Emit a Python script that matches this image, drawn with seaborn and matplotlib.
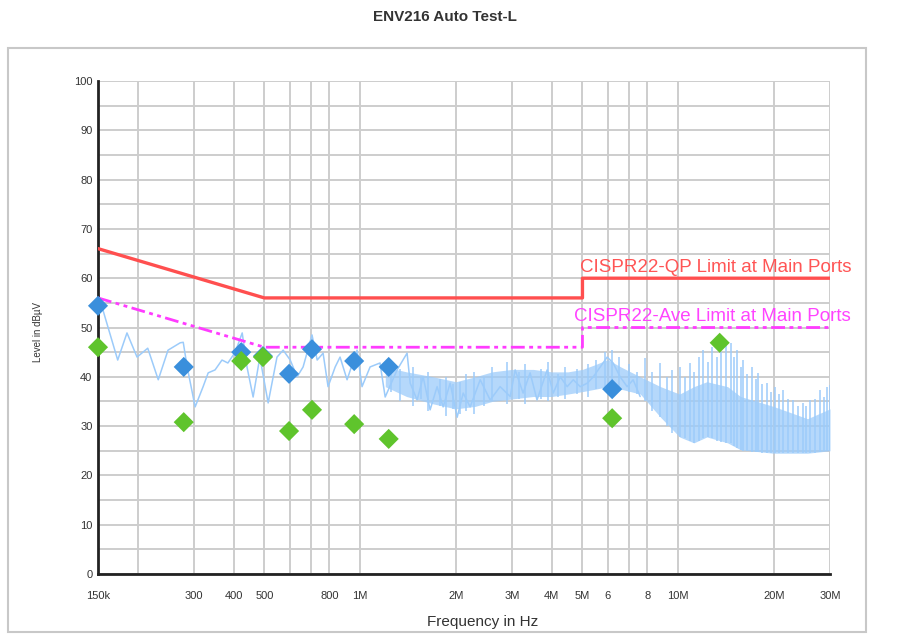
import matplotlib
matplotlib.use("Agg")
import matplotlib.pyplot as plt
import seaborn as sns
import pandas as pd
from matplotlib.ticker import FixedLocator, FixedFormatter, MultipleLocator
from matplotlib.patches import Rectangle

# ---------------- data ----------------
# spectrum trace (kHz, dBuV) – sparse low-frequency part
trace_khz = [150, 158, 173, 185, 199, 215, 232, 249, 272, 278, 286, 303, 321, 333, 350,
             368, 384, 405, 426, 441, 461, 484, 514, 548, 573, 603, 634, 662, 706, 733,
             765, 793, 835, 865, 910, 978, 1014, 1075, 1155, 1199, 1307, 1405, 1437, 1511,
             1578, 1660, 1746, 1824, 1919, 2019, 2109, 2218, 2385, 2564, 2755, 2964, 3072,
             3254, 3423, 3599, 3873, 4047, 4257, 4477, 4678, 4920, 5175, 5409, 5687, 5981,
             6242, 6567, 6909, 7216, 7591]
trace_db = [57.0, 52.0, 43.4, 48.9, 44.0, 45.8, 39.4, 45.4, 46.9, 47.0, 42.0, 33.9, 38.0, 40.8, 41.4,
            43.4, 42.8, 45.0, 48.9, 42.0, 35.9, 44.0, 34.7, 44.0, 45.4, 43.4, 40.0, 42.0, 48.5, 43.4,
            44.8, 38.0, 42.0, 44.0, 39.4, 45.4, 38.0, 42.0, 42.8, 35.9, 41.4, 44.8, 38.7, 35.3,
            40.0, 33.3, 38.0, 33.9, 38.7, 31.8, 36.7, 33.9, 39.4, 35.3, 38.0, 36.0, 41.4,
            36.7, 40.8, 35.3, 41.4, 36.7, 40.0, 38.0, 39.4, 38.0, 38.7, 40.0, 42.0, 44.0,
            42.8, 40.0, 38.0, 39.4, 36.0]

# dense band envelope (MHz, low, high)
band_mhz = [1.2, 1.4, 1.7, 2.0, 2.3, 2.6, 3.0, 3.5, 4.0, 4.5, 5.0, 5.5, 6.0, 6.6, 7.6, 8.8,
            10.1, 11.2, 12.3, 14.3, 15.7, 19.9, 25.5, 30.0]
band_low = [38.0, 36.0, 34.5, 33.5, 34.0, 35.0, 35.5, 36.0, 36.0, 36.5, 37.0, 37.5, 38.0, 37.5, 36.5, 31.8,
            27.8, 26.6, 27.8, 26.6, 25.2, 24.5, 24.5, 25.0]
band_high = [42.0, 41.0, 40.0, 39.0, 40.0, 41.0, 41.5, 41.5, 41.0, 41.0, 41.5, 42.5, 43.5, 42.0, 40.0, 38.0,
             36.5, 38.0, 39.0, 38.0, 36.0, 34.0, 31.5, 33.5]

# peaks sticking out of the dense band (MHz, low, top)
spike_mhz = [1.25, 1.33, 1.47, 1.55, 1.63, 1.78, 1.86, 1.96, 2.06, 2.16, 2.28, 2.45,
             2.6, 2.9, 3.15, 3.3, 3.7, 3.9, 4.2, 4.4, 4.8, 5.2, 5.5, 5.9, 6.2, 6.5, 7.0,
             7.4, 7.88, 8.3, 8.78, 9.2,
             9.57, 10.14, 10.5, 10.9, 11.2, 11.6, 12.0, 12.4, 12.8, 13.2, 13.6, 14.1, 14.6,
             15.0, 15.3, 15.7, 16.0, 16.5, 17.1, 17.5, 17.8, 18.4, 19.0, 19.6, 20.2, 20.8,
             21.4, 22.2, 23.0, 23.8, 24.7, 25.3, 26.0, 27.0, 28.0, 28.7, 29.4, 29.9]
spike_low = [37, 35, 34, 35.5, 33, 34, 32, 33.5, 32.5, 33, 32.5, 34,
             35, 34.5, 35.5, 34.5, 35.5, 35, 36, 35.5, 36.5, 36, 37.5, 38, 38, 37.5, 37,
             36.5, 35, 33, 31.8, 30,
             28.5, 27.8, 27.5, 27, 26.6, 27, 27.5, 27.8, 27.5, 27, 26.8, 26.6, 26.5,
             26, 25.5, 25.2, 25, 25, 24.8, 24.8, 24.7, 24.6, 24.5, 24.5, 24.5, 24.5,
             24.5, 24.5, 24.5, 24.5, 24.5, 24.5, 24.5, 24.6, 24.8, 24.9, 25, 25]
spike_top = [43, 41.5, 42, 40, 41, 39.5, 40, 38.5, 39, 40.5, 41, 40,
             42, 43, 41, 42.5, 41.5, 43, 40.5, 42, 41.5, 42.5, 43.5, 45, 45.5, 44, 42.5,
             41, 43.8, 41, 42.8, 40,
             41.4, 42, 40, 42.8, 41, 44, 45.4, 43, 46, 44, 45, 46.4, 46.9,
             44, 45.4, 42, 43.4, 40.5, 42, 39.5, 40.8, 38.5, 38.7, 37, 38, 36.5,
             37.3, 35.5, 35.3, 34, 34.7, 34, 35.3, 35.5, 37.3, 36, 38, 38.3]

# limits
qp_hz = [150e3, 500e3, 5e6, 5e6, 30e6]
qp_db = [66, 56, 56, 60, 60]
av_hz = [150e3, 500e3, 5e6, 5e6, 30e6]
av_db = [56, 46, 46, 50, 50]

# final measurements
qp_mark_khz = [150, 279, 423, 495, 598, 706, 958, 1230, 6200]
qp_mark_db = [54.4, 42.0, 45.0, 44.2, 40.6, 45.6, 43.2, 42.0, 37.5]
av_mark_khz = [150, 279, 423, 495, 598, 706, 958, 1230, 6200, 13500]
av_mark_db = [46.0, 30.8, 43.2, 44.0, 29.0, 33.3, 30.4, 27.4, 31.6, 46.9]

# axis ticks
xtick_hz = [150e3, 200e3, 300e3, 400e3, 500e3, 600e3, 700e3, 800e3, 1e6, 2e6, 3e6, 4e6,
            5e6, 6e6, 7e6, 8e6, 10e6, 20e6, 30e6]
xtick_labels = ["150k", "", "300", "400", "500", "", "", "800", "1M", "2M", "3M", "4M",
                "5M", "6", "", "8", "10M", "20M", "30M"]

# ---------------- style ----------------
sns.set_style("white")
plt.rcParams["font.family"] = ["Liberation Sans", "DejaVu Sans"]

SPEC = "#9ccbfa"
fig = plt.figure(figsize=(9.1, 6.35), dpi=100)
ax = fig.add_axes([98 / 910, 1 - 574 / 635, 732 / 910, 493 / 635])

ax.fill_between([v * 1e6 for v in band_mhz], band_low, band_high, color=SPEC,
                lw=0, alpha=0.75, zorder=2)
ax.vlines([v * 1e6 for v in spike_mhz], spike_low, spike_top, color=SPEC, lw=1.2,
          alpha=0.9, zorder=2)
trace = pd.DataFrame({"f": [v * 1e3 for v in trace_khz], "db": trace_db})
sns.lineplot(data=trace, x="f", y="db", ax=ax, color=SPEC, lw=1.1, sort=False,
             estimator=None, zorder=2)

sns.lineplot(x=qp_hz, y=qp_db, ax=ax, color="#ff4f4f", lw=2.4, sort=False,
             estimator=None, zorder=3)
sns.lineplot(x=av_hz, y=av_db, ax=ax, color="#ff3cff", lw=2.0, sort=False,
             estimator=None, zorder=3)
ax.lines[-1].set_dashes([5, 1.6, 1.4, 1.6, 1.4, 1.6])

sns.scatterplot(x=[v * 1e3 for v in qp_mark_khz], y=qp_mark_db, ax=ax, marker="D",
                s=105, color="#3a8fdc", edgecolor="none", zorder=5, clip_on=False)
sns.scatterplot(x=[v * 1e3 for v in av_mark_khz], y=av_mark_db, ax=ax, marker="D",
                s=105, color="#5fc42c", edgecolor="none", zorder=5, clip_on=False)

ax.set_xscale("log")
ax.set_xlim(150e3, 30e6)
ax.set_ylim(0, 100)
ax.xaxis.set_major_locator(FixedLocator(xtick_hz))
ax.xaxis.set_major_formatter(FixedFormatter(xtick_labels))
ax.xaxis.set_minor_locator(FixedLocator([]))
ax.yaxis.set_major_locator(MultipleLocator(10))
ax.yaxis.set_minor_locator(MultipleLocator(5))
ax.grid(True, which="both", color="#cdcdcd", lw=1.4, zorder=0)
ax.set_axisbelow(True)

for s in ["top", "right"]:
    ax.spines[s].set_visible(False)
for s in ["left", "bottom"]:
    ax.spines[s].set_color("#222222")
    ax.spines[s].set_linewidth(2.0)
ax.tick_params(axis="both", which="both", direction="inout", length=6, width=1.5,
               color="#222222", labelsize=8, labelcolor="#333333")
ax.tick_params(axis="x", pad=9)
ax.tick_params(axis="y", pad=1)

ax.set_xlabel("Frequency in Hz", fontsize=11, color="#333333")
ax.xaxis.set_label_coords(0.525, -0.083)
ax.set_ylabel("Level in dBµV", fontsize=7, color="#333333")
ax.yaxis.set_label_coords(-0.075, 0.49)

ax.text(4.9e6, 60.4, "CISPR22-QP Limit at Main Ports", color="#ff5555", fontsize=13.5,
        va="bottom", ha="left", clip_on=False, zorder=6)
ax.text(4.7e6, 50.6, "CISPR22-Ave Limit at Main Ports", color="#ff44ff", fontsize=13.5,
        va="bottom", ha="left", clip_on=False, zorder=6)

fig.text(445 / 910, 1 - 17 / 635, "ENV216 Auto Test-L", ha="center", va="center",
         fontsize=11, fontweight="bold", color="#333333")
fig.patches.append(Rectangle((8 / 910, 3 / 635), 858 / 910, 584 / 635,
                             transform=fig.transFigure, fill=False,
                             edgecolor="#c8c8c8", lw=1.5))

fig.savefig("out.png", dpi=100)
